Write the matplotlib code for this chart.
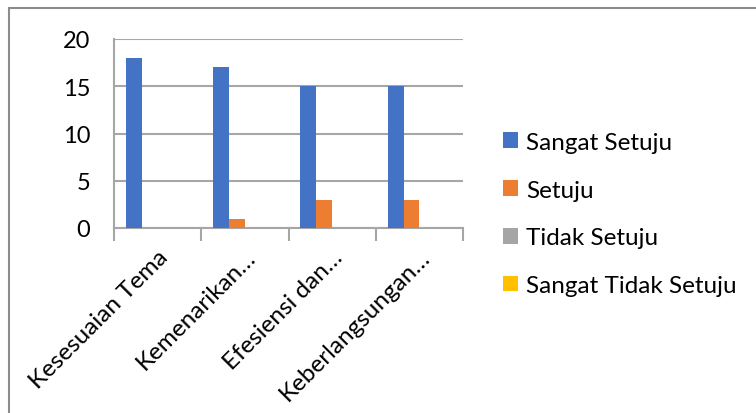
import numpy as np
import matplotlib.pyplot as plt
from matplotlib.patches import Rectangle

categories = ["Kesesuaian Tema", "Kemenarikan…", "Efesiensi dan…", "Keberlangsungan…"]
series_names = ["Sangat Setuju", "Setuju", "Tidak Setuju", "Sangat Tidak Setuju"]
sangat_setuju = [18, 17, 15, 15]
setuju = [0, 1, 3, 3]
tidak_setuju = [0, 0, 0, 0]
sangat_tidak_setuju = [0, 0, 0, 0]
colors = ["#4472C4", "#ED7D31", "#A5A5A5", "#FFC000"]
yticks = [0, 5, 10, 15, 20]

plt.rcParams['font.family'] = ['Lato', 'DejaVu Sans']

W, H = 756, 414
fig = plt.figure(figsize=(W / 100, H / 100), dpi=100)

# chart border (right and bottom run off the image)
fig.patches.append(Rectangle((9 / W, -0.1), 1.2, 1 - 9 / H + 0.1, transform=fig.transFigure,
                             fill=False, edgecolor="#8c8c8c", linewidth=1.5))

ax = fig.add_axes([114 / W, 1 - 229 / H, (463 - 114) / W, (229 - 40) / H])

data = [sangat_setuju, setuju, tidak_setuju, sangat_tidak_setuju]
x = np.arange(len(categories))
w = 1 / 5.5
for i, (vals, name, c) in enumerate(zip(data, series_names, colors)):
    ax.bar(x + (i - 1.5) * w, vals, width=w, color=c, label=name, zorder=3)

ax.set_xlim(-0.5, len(categories) - 0.5)
ax.set_ylim(0, 20)
ax.set_yticks(yticks)
ax.yaxis.grid(True, color="#a6a6a6", linewidth=1.5, zorder=0)
ax.tick_params(axis='y', length=0, labelsize=17, pad=17)

for s in ["top", "right"]:
    ax.spines[s].set_visible(False)
ax.spines["left"].set_color("#a6a6a6")
ax.spines["left"].set_linewidth(1.5)
ax.spines["bottom"].set_color("#a6a6a6")
ax.spines["bottom"].set_linewidth(1.5)

# ticks at category boundaries, labels at centers
ax.set_xticks(np.arange(len(categories) + 1) - 0.5)
ax.set_xticklabels([])
ax.tick_params(axis='x', length=9, width=1.5, color="#a6a6a6", direction='out')
ax.set_xticks(x, minor=True)
ax.set_xticklabels(categories, minor=True, rotation=45, ha='right',
                   rotation_mode='anchor', fontsize=17.5)
ax.tick_params(axis='x', which='minor', length=0, pad=13)

handles, labels = ax.get_legend_handles_labels()
fig.legend(handles, labels, loc='center left', bbox_to_anchor=(481 / W, 1 - 215 / H),
           frameon=False, fontsize=17.5, handlelength=0.62, handleheight=0.62,
           handletextpad=0.35, labelspacing=1.1)

fig.savefig("out.png", dpi=100)
